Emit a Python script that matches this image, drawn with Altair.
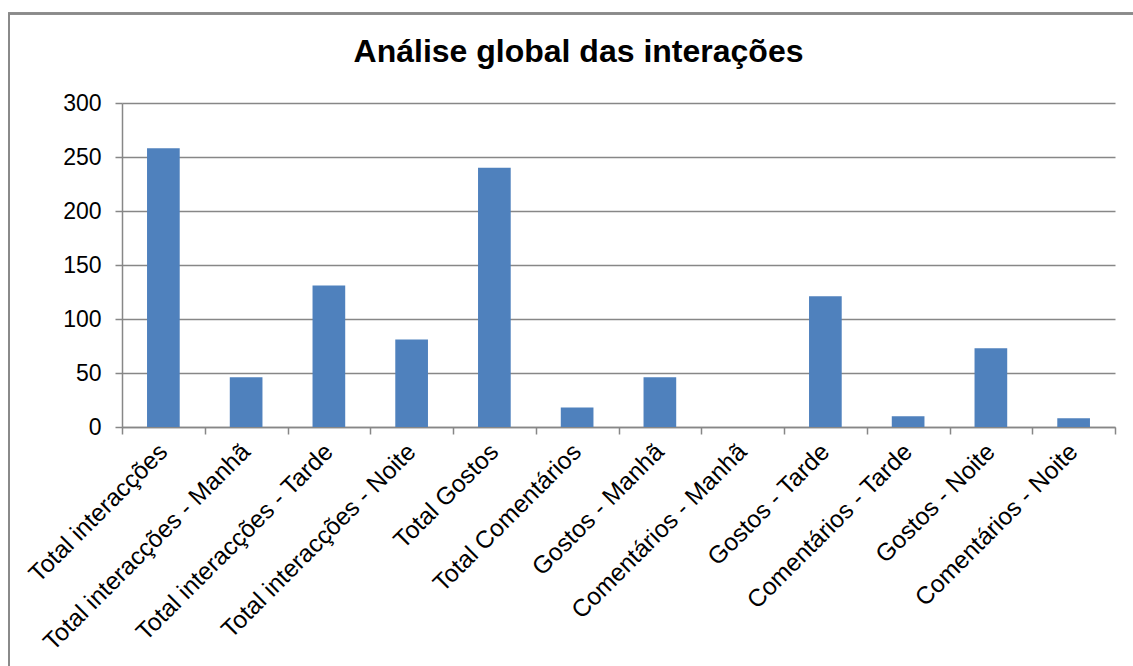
import altair as alt
import pandas as pd

# Categories and totals for the interaction summary
categories = [
    "Total interacções",
    "Total interacções - Manhã",
    "Total interacções - Tarde",
    "Total interacções - Noite",
    "Total Gostos",
    "Total Comentários",
    "Gostos - Manhã",
    "Comentários - Manhã",
    "Gostos - Tarde",
    "Comentários - Tarde",
    "Gostos - Noite",
    "Comentários - Noite",
]
values = [258, 46, 131, 81, 240, 18, 46, 0, 121, 10, 73, 8]
y_ticks = [0, 50, 100, 150, 200, 250, 300]

df = pd.DataFrame({"categoria": categories, "valor": values})

FONT = "Liberation Sans"
GRAY = "#878787"
BLUE = "#4F81BD"

W, H = 993, 324
LEFT, TOP = 122, 103

bars = alt.Chart(df).mark_bar(
    color=BLUE,
    width=alt.RelativeBandSize(0.395),
).encode(
    x=alt.X(
        "categoria:N",
        sort=categories,
        title=None,
        scale=alt.Scale(paddingInner=0, paddingOuter=0),
        axis=alt.Axis(
            labelAngle=-45,
            labelAlign="right",
            labelBaseline="middle",
            labelFont=FONT,
            labelFontSize=24.5,
            labelColor="#000000",
            labelPadding=14,
            labelLimit=0,
            tickBand="extent",
            tickSize=7,
            tickColor=GRAY,
            tickWidth=1.5,
            domainColor=GRAY,
            domainWidth=1.5,
            grid=False,
        ),
    ),
    y=alt.Y(
        "valor:Q",
        title=None,
        scale=alt.Scale(domain=[0, 300], nice=False),
        axis=alt.Axis(
            values=y_ticks,
            labelFont=FONT,
            labelFontSize=23,
            labelColor="#000000",
            labelPadding=14,
            tickSize=7,
            tickColor=GRAY,
            tickWidth=1.5,
            domainColor=GRAY,
            domainWidth=1.5,
            grid=True,
            gridColor=GRAY,
            gridWidth=1.5,
        ),
    ),
)

# Outer border around the whole chart area
frame = alt.Chart(df).mark_rect(
    fill=None, stroke="#8A8A8A", strokeWidth=1.5
).encode(
    x=alt.value(9 - LEFT),
    x2=alt.value(1133 - LEFT + 10),
    y=alt.value(13.5 - TOP),
    y2=alt.value(666 - TOP + 10),
)

chart = alt.layer(frame, bars).properties(
    width=W,
    height=H,
    title=alt.TitleParams(
        "Análise global das interações",
        font=FONT,
        fontSize=32,
        fontWeight="bold",
        color="#000000",
        anchor="middle",
        baseline="alphabetic",
        dx=-40,
        offset=-81,
    ),
    autosize=alt.AutoSizeParams(type="none"),
    padding={"left": LEFT, "top": TOP, "right": 1133 - LEFT - W, "bottom": 666 - TOP - H},
    background="white",
).configure_view(stroke=None)

chart.save("out.html", embed_options={"renderer": "svg", "actions": False})
